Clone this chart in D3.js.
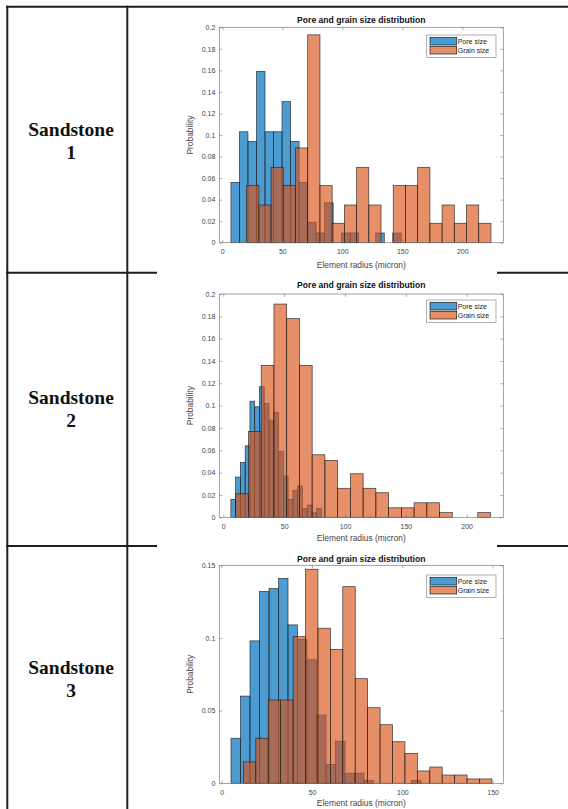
<!DOCTYPE html>
<html><head><meta charset="utf-8">
<script src="https://cdn.jsdelivr.net/npm/d3@7/dist/d3.min.js"></script>
<style>
body{margin:0;background:#fff;}
svg{display:block;}
</style></head><body>
<svg id="c" width="568" height="809"></svg>
<script>
// ---------- DATA ----------
const rowLabels = [["Sandstone","1"],["Sandstone","2"],["Sandstone","3"]];
const seriesNames = ["Pore size","Grain size"];
const chartTitle = "Pore and grain size distribution";
const xAxisTitle = "Element radius (micron)";
const yAxisTitle = "Probability";

const xTicks12 = [0,50,100,150,200];
const xTicks3 = [0,50,100,150];
const yTicks12 = [0,0.02,0.04,0.06,0.08,0.1,0.12,0.14,0.16,0.18,0.2];
const yTicks3 = [0,0.05,0.1,0.15];

// Sandstone 1 (bin start / bin width in micron, probabilities per bin)
const s1PoreBin = [7.2, 7.1];
const s1PoreProb = [0.056,0.103,0.094,0.159,0.103,0.103,0.131,0.094,0.056,0.019,0.009,0.037,0,0.009,0.009,0,0,0.009,0,0.009];
const s1GrainBin = [20.3, 10.18];
const s1GrainProb = [0.053,0.035,0.070,0.053,0.088,0.193,0.053,0.018,0.035,0.070,0.035,0,0.053,0.053,0.070,0.018,0.035,0.018,0.035,0.018];

// Sandstone 2
const s2PoreBin = [6.2, 3.92];
const s2PoreProb = [0.016,0.036,0.049,0.064,0.104,0.099,0.117,0.102,0.087,0.094,0.059,0.037,0.016,0.024,0.028,0.008,0.011,0.004,0.008];
const s2GrainBin = [10.2, 10.47];
const s2GrainProb = [0.021,0.077,0.136,0.191,0.178,0.136,0.056,0.051,0.026,0.039,0.026,0.022,0.0085,0.0085,0.013,0.013,0.0042,0,0,0.0042];

// Sandstone 3
const s3PoreBin = [5.15, 5.26];
const s3PoreProb = [0.031,0.060,0.098,0.132,0.134,0.141,0.109,0.099,0.085,0.047,0.013,0.029,0.007,0.007,0.002,0,0,0,0,0.002];
const s3GrainBin = [12.0, 6.88];
const s3GrainProb = [0.0147,0.031,0.0573,0.0573,0.1009,0.1473,0.1067,0.0922,0.1353,0.072,0.052,0.0403,0.0286,0.0206,0.0085,0.0112,0.0057,0.0057,0.003,0.003];

// ---------- STYLE / LAYOUT ----------
const BLUE = "rgb(0,114,189)", ORANGE = "rgb(217,83,25)";
const BLUE_OP = 0.7, ORANGE_OP = 0.65;
const EDGE = "#1a1a1a";
const AXIS = "#7a7a7a", TXT = "#444";
const FONT = "Liberation Sans, Arial, Helvetica, sans-serif";
const SERIF = "Liberation Serif, 'Times New Roman', serif";

const panels = [
  {labels: rowLabels[0], labelY: 141, left:219.3, right:503.3, top:27.3, bottom:242.7, xDomain:[-2.5,234.2], yMax:0.2,
   xTicks:xTicks12, yTicks:yTicks12, pore:[s1PoreBin,s1PoreProb], grain:[s1GrainBin,s1GrainProb], legTop:35, titleY:20, xlabOff:22.5},
  {labels: rowLabels[1], labelY: 409, left:219.3, right:503.3, top:294, bottom:517.3, xDomain:[-3.3,230.1], yMax:0.2,
   xTicks:xTicks12, yTicks:yTicks12, pore:[s2PoreBin,s2PoreProb], grain:[s2GrainBin,s2GrainProb], legTop:300, titleY:285, xlabOff:21},
  {labels: rowLabels[2], labelY: 679, left:219.3, right:503.3, top:565.3, bottom:783.3, xDomain:[-1.33,155.9], yMax:0.15,
   xTicks:xTicks3, yTicks:yTicks3, pore:[s3PoreBin,s3PoreProb], grain:[s3GrainBin,s3GrainProb], legTop:575, titleY:558.5, xlabOff:19.3}
];

const svg = d3.select("#c");
svg.append("rect").attr("width",568).attr("height",809).attr("fill","#fff");

function bins(binDef, probs){
  const [start,w] = binDef;
  return probs.map((v,i)=>({x0:start+i*w, x1:start+(i+1)*w, v})).filter(d=>d.v>0);
}

function drawPanel(p){
  const x = d3.scaleLinear().domain(p.xDomain).range([p.left,p.right]);
  const y = d3.scaleLinear().domain([0,p.yMax]).range([p.bottom,p.top]);
  const g = svg.append("g");

  g.append("rect").attr("x",p.left).attr("y",p.top).attr("width",p.right-p.left).attr("height",p.bottom-p.top).attr("fill","#fff");

  const drawBars = (data, color, op) => g.append("g").selectAll("rect").data(data).join("rect")
    .attr("x",d=>x(d.x0)).attr("width",d=>x(d.x1)-x(d.x0))
    .attr("y",d=>y(d.v)).attr("height",d=>y(0)-y(d.v))
    .attr("fill",color).attr("fill-opacity",op)
    .attr("stroke",EDGE).attr("stroke-opacity",0.85).attr("stroke-width",0.7);
  drawBars(bins(p.pore[0],p.pore[1]), BLUE, BLUE_OP);
  drawBars(bins(p.grain[0],p.grain[1]), ORANGE, ORANGE_OP);

  const styleAxis = sel => {
    sel.select(".domain").remove();
    sel.selectAll(".tick line").attr("stroke",AXIS).attr("stroke-width",0.6);
    sel.selectAll(".tick text").attr("fill",TXT).style("font-family",FONT).style("font-size","7px");
  };
  g.append("g").attr("transform",`translate(0,${p.bottom})`)
    .call(d3.axisBottom(x).tickValues(p.xTicks).tickSize(-3).tickPadding(6.5).tickFormat(d=>String(d))).call(styleAxis);
  g.append("g").attr("transform",`translate(0,${p.top})`)
    .call(d3.axisTop(x).tickValues(p.xTicks).tickSize(-3).tickFormat("")).call(styleAxis);
  g.append("g").attr("transform",`translate(${p.left},0)`)
    .call(d3.axisLeft(y).tickValues(p.yTicks).tickSize(-3).tickPadding(4).tickFormat(d=>String(d))).call(styleAxis);
  g.append("g").attr("transform",`translate(${p.right},0)`)
    .call(d3.axisRight(y).tickValues(p.yTicks).tickSize(-3).tickFormat("")).call(styleAxis);

  g.append("rect").attr("x",p.left).attr("y",p.top).attr("width",p.right-p.left).attr("height",p.bottom-p.top)
    .attr("fill","none").attr("stroke",AXIS).attr("stroke-width",0.7);

  const cx = (p.left+p.right)/2;
  g.append("text").attr("x",cx).attr("y",p.titleY).attr("dy","0.35em").attr("text-anchor","middle")
    .style("font-family",FONT).style("font-size","8.6px").style("font-weight","bold").attr("fill","#111").text(chartTitle);
  g.append("text").attr("x",cx).attr("y",p.bottom+p.xlabOff).attr("dy","0.35em").attr("text-anchor","middle")
    .style("font-family",FONT).style("font-size","8.4px").attr("fill",TXT).text(xAxisTitle);
  g.append("text").attr("transform",`translate(190,${(p.top+p.bottom)/2}) rotate(-90)`).attr("dy","0.35em").attr("text-anchor","middle")
    .style("font-family",FONT).style("font-size","8.4px").attr("fill",TXT).text(yAxisTitle);

  const lx = p.right-76.6, lw = 69.3, lt = p.legTop, lh = 22.3;
  const lg = g.append("g");
  lg.append("rect").attr("x",lx).attr("y",lt).attr("width",lw).attr("height",lh).attr("fill","#fff").attr("stroke",AXIS).attr("stroke-width",0.6);
  [[BLUE,BLUE_OP],[ORANGE,ORANGE_OP]].forEach((c,i)=>{
    const yy = lt+2.3+i*9;
    lg.append("rect").attr("x",lx+3.3).attr("y",yy).attr("width",26.7).attr("height",7.7)
      .attr("fill",c[0]).attr("fill-opacity",c[1]).attr("stroke",EDGE).attr("stroke-width",0.7);
    lg.append("text").attr("x",lx+31).attr("y",yy+3.9).attr("dy","0.35em")
      .style("font-family",FONT).style("font-size","7px").attr("fill","#222").text(seriesNames[i]);
  });

  svg.append("text").attr("x",71).attr("y",p.labelY-11.5).attr("dy","0.35em").attr("text-anchor","middle")
    .style("font-family",SERIF).style("font-size","19.5px").style("font-weight","bold").attr("fill","#111").text(p.labels[0]);
  svg.append("text").attr("x",71).attr("y",p.labelY+11.5).attr("dy","0.35em").attr("text-anchor","middle")
    .style("font-family",SERIF).style("font-size","19.5px").style("font-weight","bold").attr("fill","#111").text(p.labels[1]);
}

panels.forEach(drawPanel);

const TL = "#1e1e1e";
const tline = (x1,y1,x2,y2)=>svg.append("line").attr("x1",x1).attr("y1",y1).attr("x2",x2).attr("y2",y2)
  .attr("stroke",TL).attr("stroke-width",2);
tline(6,6.7,568,6.7);
tline(7.3,5.7,7.3,809);
tline(127.3,5.7,127.3,809);
[272.7,546].forEach(yy=>{ tline(6,yy,157,yy); tline(497,yy,568,yy); });
</script>
</body></html>
